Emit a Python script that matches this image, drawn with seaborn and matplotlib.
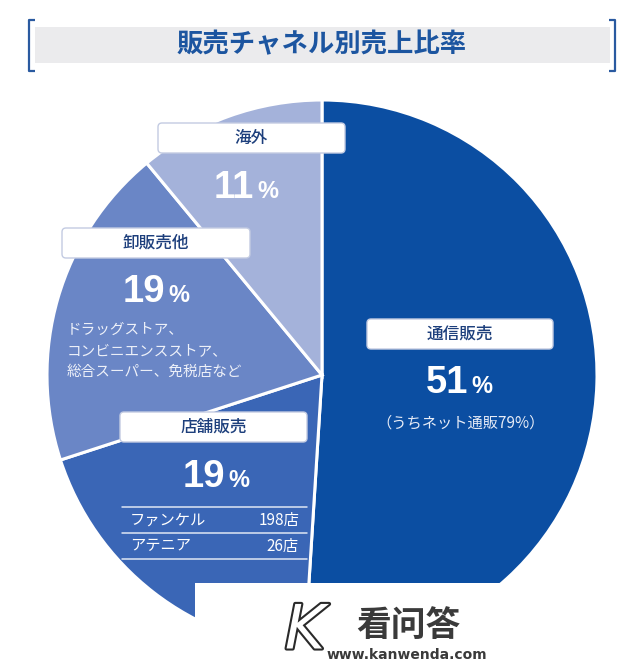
import matplotlib
matplotlib.use("Agg")
import matplotlib.pyplot as plt
import seaborn as sns
from matplotlib.patches import FancyBboxPatch, Rectangle
import matplotlib.patheffects as pe

sns.set_theme(style="white")
plt.rcParams['font.family'] = ['Noto Sans CJK JP', 'DejaVu Sans']

# ---- data ----
channels = ["通信販売", "店舗販売", "卸販売他", "海外"]
shares = [51, 19, 19, 11]
colors = ["#0b4ea2", "#3a66b6", "#6a86c6", "#a4b2da"]
title = "販売チャネル別売上比率"
sub_tsushin = "（うちネット通販79%）"
sub_oroshi = ["ドラッグストア、", "コンビニエンスストア、", "総合スーパー、免税店など"]
store_names = ["ファンケル", "アテニア"]
store_counts = ["198店", "26店"]

W, H = 629, 667
fig = plt.figure(figsize=(W / 100, H / 100), dpi=100)
ax = fig.add_axes([0, 0, 1, 1])


def Y(py):
    return H - py


# pie
ax.pie(shares, colors=colors, startangle=90, counterclock=False,
       center=(322, Y(375)), radius=275,
       wedgeprops=dict(edgecolor="white", linewidth=2.2))
ax.set_xlim(0, W)
ax.set_ylim(0, H)
ax.set_aspect("auto")
ax.axis("off")

# title band and brackets
blue = "#1c55a0"
ax.add_patch(Rectangle((35, Y(63)), 575, 36, facecolor="#ebebed", edgecolor="none", zorder=1))
ax.plot([35, 29, 29, 35], [Y(20), Y(20), Y(71), Y(71)], color="#2a5aa0", lw=1.6, solid_capstyle="butt")
ax.plot([609, 615, 615, 609], [Y(20), Y(20), Y(71), Y(71)], color="#2a5aa0", lw=1.6, solid_capstyle="butt")
ax.text(322, Y(45), title, ha="center", va="center", fontsize=19, fontweight="bold", color=blue)

label_color = "#1d3f7c"


def label_box(x0, x1, y0, y1, text):
    ax.add_patch(FancyBboxPatch((x0, Y(y1)), x1 - x0, y1 - y0,
                                boxstyle="round,pad=0,rounding_size=4",
                                facecolor="white", edgecolor="#c3cbe2", lw=1.0, zorder=5))
    ax.text((x0 + x1) / 2, Y((y0 + y1) / 2), text, ha="center", va="center",
            fontsize=12, fontweight="medium", color=label_color, zorder=6)


def pct(xr, base, value):
    ax.text(xr, Y(base), str(value), ha="right", va="baseline", fontsize=27.5,
            fontweight="bold", color="white", family="Liberation Sans", zorder=6)
    ax.text(xr + 3, Y(base), "%", ha="left", va="baseline", fontsize=17,
            fontweight="bold", color="white", family="Liberation Sans", zorder=6)


# 通信販売
label_box(367, 553, 319, 349, channels[0])
pct(468, 393, shares[0])
ax.text(461, Y(423), sub_tsushin, ha="center", va="center", fontsize=11,
        color="#e6ebf6", zorder=6)

# 店舗販売
label_box(120, 307, 412, 442, channels[1])
pct(225, 487, shares[1])
for ly in [507, 533, 559]:
    ax.plot([122, 307], [Y(ly), Y(ly)], color="#dfe6f4", lw=1.1, zorder=6)
for i, (n, c) in enumerate(zip(store_names, store_counts)):
    yy = [520, 546][i]
    ax.text(130, Y(yy), n, ha="left", va="center", fontsize=11, color="white", zorder=6)
    ax.text(299, Y(yy), c, ha="right", va="center", fontsize=11, color="white", zorder=6)

# 卸販売他
label_box(62, 250, 228, 258, channels[2])
pct(165, 302, shares[2])
for i, line in enumerate(sub_oroshi):
    ax.text(67, Y([330, 351, 372][i]), line, ha="left", va="center", fontsize=10.5,
            color="#eef1f9", zorder=6)

# 海外
label_box(158, 345, 123, 153, channels[3])
pct(254, 198, shares[3])

# watermark
ax.add_patch(Rectangle((195, 0), W - 195, Y(583), facecolor="white", edgecolor="none", zorder=8))
ax.text(305, Y(632), "K", ha="center", va="center", fontsize=44, fontstyle="italic",
        color="white", family="DejaVu Sans", zorder=9,
        path_effects=[pe.Stroke(linewidth=3, foreground="#2a2a2a"), pe.Normal()])
ax.text(408, Y(625), "看问答", ha="center", va="center", fontsize=25, fontweight="bold",
        color="#3a3a3a", family=["Noto Sans CJK SC", "DejaVu Sans"], zorder=9)
ax.text(407, Y(655), "www.kanwenda.com", ha="center", va="center", fontsize=10,
        fontweight="bold", color="#3a3a3a", family="DejaVu Sans", zorder=9)

fig.savefig("out.png", dpi=100)
